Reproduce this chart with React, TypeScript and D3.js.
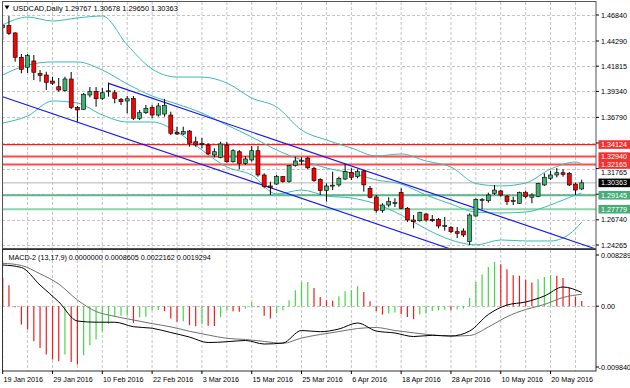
import React from "react";
import * as d3 from "d3";

// USDCAD daily candles, 19 Jan 2016 .. 27 May 2016
const opens = [
  1.4563, 1.4579, 1.4508, 1.4269, 1.4171, 1.4233, 1.4112, 1.4095, 1.4036, 1.398,
  1.3941, 1.4056, 1.3778, 1.3758, 1.3899, 1.3935, 1.3866, 1.3936, 1.3921, 1.3857,
  1.384, 1.3866, 1.367, 1.3725, 1.3778, 1.3702, 1.3712, 1.3702, 1.3533, 1.3516,
  1.3545, 1.344, 1.3421, 1.3408, 1.331, 1.3287, 1.3408, 1.3244, 1.3342, 1.3228,
  1.3261, 1.3352, 1.3114, 1.3006, 1.3025, 1.3097, 1.3048, 1.3205, 1.325, 1.328,
  1.318, 1.3071, 1.296, 1.301, 1.3016, 1.3074, 1.314, 1.3097, 1.3153, 1.2983,
  1.2898, 1.2765, 1.2819, 1.284, 1.2942, 1.2787, 1.2672, 1.2665, 1.2731, 1.2679,
  1.2679, 1.2614, 1.2598, 1.2557, 1.2564, 1.2459, 1.2711, 1.2868, 1.2861, 1.2934,
  1.2957, 1.2907, 1.286, 1.2836, 1.294, 1.2895, 1.2901, 1.3016, 1.3081, 1.3114,
  1.3136, 1.313, 1.3025, 1.29767,
];
const highs = [
  1.4603, 1.4674, 1.4515, 1.4301, 1.4301, 1.4291, 1.4144, 1.4127, 1.4078, 1.4066,
  1.4078, 1.4125, 1.3791, 1.3918, 1.3977, 1.3977, 1.3968, 1.402, 1.3948, 1.3869,
  1.3889, 1.3889, 1.3752, 1.3801, 1.3801, 1.382, 1.386, 1.3735, 1.3588, 1.3588,
  1.3555, 1.349, 1.3477, 1.3425, 1.3376, 1.344, 1.344, 1.3366, 1.3359, 1.33,
  1.3398, 1.3398, 1.313, 1.3048, 1.3114, 1.3104, 1.3212, 1.3293, 1.3287, 1.3293,
  1.3195, 1.3081, 1.3032, 1.3146, 1.3097, 1.3222, 1.318, 1.317, 1.316, 1.3006,
  1.2917, 1.2836, 1.2895, 1.2885, 1.2983, 1.2799, 1.2721, 1.2753, 1.2737, 1.2721,
  1.2692, 1.2701, 1.2613, 1.2603, 1.259, 1.2737, 1.2885, 1.2888, 1.294, 1.3016,
  1.2966, 1.2917, 1.2901, 1.295, 1.296, 1.2934, 1.3038, 1.313, 1.3156, 1.3182,
  1.317, 1.3143, 1.3038, 1.30678,
];
const lows = [
  1.4439, 1.4488, 1.4226, 1.4112, 1.4115, 1.4046, 1.4029, 1.3948, 1.3997, 1.3931,
  1.3931, 1.3761, 1.3637, 1.3752, 1.3876, 1.3784, 1.385, 1.3882, 1.3817, 1.3801,
  1.3719, 1.3653, 1.3653, 1.3712, 1.367, 1.3686, 1.3686, 1.3506, 1.3506, 1.3506,
  1.3391, 1.3391, 1.3376, 1.331, 1.3287, 1.3278, 1.3234, 1.3234, 1.317, 1.3212,
  1.3244, 1.3097, 1.2983, 1.2917, 1.3016, 1.3038, 1.3038, 1.3195, 1.3212, 1.3172,
  1.3048, 1.2917, 1.2852, 1.2966, 1.2999, 1.3064, 1.3064, 1.3081, 1.295, 1.2885,
  1.2744, 1.2744, 1.2797, 1.2799, 1.2777, 1.2652, 1.259, 1.2655, 1.2655, 1.2652,
  1.259, 1.2567, 1.2544, 1.2495, 1.2505, 1.2427, 1.2704, 1.2777, 1.2842, 1.2917,
  1.2901, 1.2819, 1.2819, 1.2829, 1.2885, 1.2836, 1.2895, 1.3006, 1.3064, 1.3091,
  1.3097, 1.3006, 1.2917, 1.2965,
];
const closes = [
  1.4579, 1.4504, 1.4269, 1.4151, 1.4285, 1.4122, 1.4092, 1.4023, 1.4014, 1.3948,
  1.4056, 1.3778, 1.3752, 1.3906, 1.3931, 1.3862, 1.3921, 1.394, 1.3866, 1.3833,
  1.3862, 1.367, 1.3725, 1.3768, 1.3702, 1.3791, 1.3798, 1.3523, 1.3516, 1.3539,
  1.3425, 1.3408, 1.3424, 1.332, 1.3342, 1.3418, 1.3244, 1.3352, 1.3228, 1.3271,
  1.3352, 1.3114, 1.2999, 1.2989, 1.3097, 1.3048, 1.3205, 1.3251, 1.3258, 1.3184,
  1.3058, 1.296, 1.3006, 1.3014, 1.3081, 1.3146, 1.3091, 1.3146, 1.3016, 1.2895,
  1.2767, 1.2819, 1.2852, 1.2843, 1.2787, 1.2672, 1.2655, 1.2744, 1.2672, 1.2665,
  1.2613, 1.2617, 1.2557, 1.2541, 1.2525, 1.2721, 1.2875, 1.2872, 1.2917, 1.2966,
  1.2917, 1.2852, 1.2863, 1.294, 1.2901, 1.2917, 1.3032, 1.3091, 1.3114, 1.3136,
  1.312, 1.3016, 1.2966, 1.30363,
];

const dateLabels = [
  "19 Jan 2016", "29 Jan 2016", "10 Feb 2016", "22 Feb 2016", "3 Mar 2016", "15 Mar 2016",
  "25 Mar 2016", "6 Apr 2016", "18 Apr 2016", "28 Apr 2016", "10 May 2016", "20 May 2016",
];
const priceTicks = [1.4684, 1.4429, 1.41815, 1.3934, 1.3679, 1.3428, 1.31765, 1.2925, 1.2674, 1.24265];
// ticks whose labels are not hidden under the level tags
const priceLabels = [1.4684, 1.4429, 1.41815, 1.3934, 1.3679, 1.31765, 1.2674, 1.24265];

// Bollinger bands (20,2), sampled every 4 bars
const bandBars = [0, 4, 8, 12, 16, 20, 24, 28, 32, 36, 40, 44, 48, 52, 56, 60, 64, 68, 72, 76, 80, 84, 88, 92, 93];
const bbUpper = [
  1.4586, 1.4664, 1.4625, 1.4655, 1.4674, 1.439, 1.4154, 1.4075, 1.4075, 1.4017,
  1.3869, 1.3781, 1.3555, 1.3457, 1.3379, 1.33, 1.332, 1.3251, 1.3192, 1.303,
  1.3006, 1.3035, 1.3172, 1.3241, 1.3222,
];
const bbMiddle = [
  1.4095, 1.4193, 1.4223, 1.4223, 1.4144, 1.4007, 1.3889, 1.381, 1.3722, 1.3604,
  1.3487, 1.3359, 1.3261, 1.3182, 1.3133, 1.3065, 1.3025, 1.2917, 1.2829, 1.275,
  1.2741, 1.275, 1.2819, 1.2917, 1.2937,
];
const bbLower = [
  1.3624, 1.3693, 1.384, 1.382, 1.3703, 1.3634, 1.3634, 1.3536, 1.3359, 1.3192,
  1.3114, 1.2927, 1.2966, 1.2908, 1.2888, 1.2829, 1.2721, 1.2584, 1.2476, 1.2427,
  1.2476, 1.2466, 1.2466, 1.2584, 1.2652,
];

// trend channel, [bar, price]
const channelLower = [[0, 1.3882], [65, 1.2531]];
const channelUpper = [[17, 1.4013], [65, 1.3016]];

const redLevels = [1.34124, 1.3294, 1.32165];
const greenLevels = [1.29145, 1.27779];
const lastPrice = 1.30363;

// MACD-2 (13,17,9)
const histogram = [
  0.00458, 0.0034, -0.00016, -0.00296, -0.00377, -0.00567, -0.00675, -0.00782, -0.00863, -0.0089,
  -0.00782, -0.00902, -0.00944, -0.00793, -0.00631, -0.00539, -0.00405, -0.00287, -0.00162, -0.00154,
  -0.00146, -0.0027, -0.00178, -0.0017, -0.00065, -0.00062, -0.00081, -0.00199, -0.00251, -0.00243,
  -0.00308, -0.00324, -0.00291, -0.00316, -0.00321, -0.00178, -0.00065, -0.00081, -0.00089, -0.0004,
  0.00065, -0.00016, -0.00154, -0.00199, -0.00113, -0.00065, 0.00097, 0.00259, 0.00389, 0.00393,
  0.00296, 0.00151, 0.00097, 0.00089, 0.00162, 0.00243, 0.00259, 0.00324, 0.00232, 0.00081,
  -0.00081, -0.00134, -0.00118, -0.00102, -0.0013, -0.00173, -0.0021, -0.00134, -0.00118, -0.00076,
  -0.00068, -0.00057, -0.00065, -0.00049, -0.0004, 0.00134, 0.00393, 0.00513, 0.00636, 0.00717,
  0.0068, 0.00599, 0.00502, 0.00494, 0.00432, 0.00384, 0.00437, 0.00474, 0.00502, 0.00494,
  0.00458, 0.00296, 0.00151, 0.00086,
];
const macdBars = [0, 3, 6, 9, 12, 15, 18, 21, 24, 27, 30, 33, 36, 39, 42, 45, 48, 51, 54, 57, 60, 63, 66, 69, 72, 75, 78, 81, 84, 87, 90, 93];
const macdMain = [
  0.00667, 0.00627, 0.00342, 0.00071, -0.0024, -0.00259, -0.00259, -0.00332, -0.00356, -0.00426,
  -0.00499, -0.00588, -0.00575, -0.00555, -0.00612, -0.00596, -0.00393, -0.00413, -0.00369, -0.00272,
  -0.00402, -0.00434, -0.00491, -0.00471, -0.00482, -0.00402, -0.00134, 0.00019, 0.00068, 0.00165,
  0.00311, 0.00222,
];
const macdSignal = [
  0.00695, 0.00659, 0.00525, 0.00359, 0.001, -0.00086, -0.00164, -0.00223, -0.00282, -0.00334,
  -0.00406, -0.00466, -0.0052, -0.00539, -0.0057, -0.00601, -0.00515, -0.00458, -0.0041, -0.00361,
  -0.00345, -0.00393, -0.00431, -0.00465, -0.00484, -0.00474, -0.00337, -0.0017, -0.00053, 0.00028,
  0.00141, 0.00193,
];

const FONT = "'Liberation Sans', Arial, sans-serif";

export default function App() {
  const left = 2;
  const right = 596;
  const mainTop = 2;
  const mainBottom = 249;
  const macdBottom = 371;

  const x = d3.scaleLinear().domain([0, closes.length - 1]).range([2.7, 581.7]);
  const y = d3.scaleLinear().domain([1.24265, 1.4684]).range([245, 15]);
  const ym = d3.scaleLinear().domain([-0.00984, 0.008289]).range([367, 255]);
  const fmt = d3.format(".5f");

  const bandLine = d3
    .line<number>()
    .x((d, i) => x(bandBars[i]))
    .y((d) => y(d))
    .curve(d3.curveMonotoneX);
  const macdLine = d3
    .line<number>()
    .x((d, i) => x(macdBars[i]))
    .y((d) => ym(d))
    .curve(d3.curveMonotoneX);

  // extend a channel line from its first anchor past the right edge
  const ray = (pts: number[][]) => {
    const [[b0, p0], [b1, p1]] = pts;
    const slope = (p1 - p0) / (b1 - b0);
    const bEnd = 110;
    return { x1: x(b0), y1: y(p0), x2: x(bEnd), y2: y(p0 + slope * (bEnd - b0)) };
  };

  const gridBars = d3.range(0, closes.length, 4);
  const labelBars = dateLabels.map((_, i) => i * 8);

  return (
    <div style={{ position: "absolute", left: 0, top: 0 }}>
      <svg width={630} height={388} style={{ display: "block", background: "#fff" }} fontFamily={FONT}>
        <defs>
          <clipPath id="mainClip">
            <rect x={left} y={mainTop} width={right - left} height={mainBottom - mainTop} />
          </clipPath>
          <clipPath id="macdClip">
            <rect x={left} y={mainBottom + 1} width={right - left} height={macdBottom - mainBottom - 1} />
          </clipPath>
        </defs>

        {/* grid */}
        <g stroke="#c4c4c4" strokeWidth={1} strokeDasharray="3 2">
          {priceTicks.map((p) => (
            <line key={p} x1={left} x2={right} y1={Math.round(y(p)) + 0.5} y2={Math.round(y(p)) + 0.5} />
          ))}
          {gridBars.map((b) => (
            <g key={b}>
              <line x1={x(b)} x2={x(b)} y1={mainTop} y2={mainBottom} />
              <line x1={x(b)} x2={x(b)} y1={mainBottom + 1} y2={macdBottom} />
            </g>
          ))}
          <line x1={left} x2={right} y1={Math.round(ym(0)) + 0.5} y2={Math.round(ym(0)) + 0.5} />
        </g>

        <g clipPath="url(#mainClip)">
          {/* horizontal levels */}
          <line x1={left} x2={right} y1={y(lastPrice)} y2={y(lastPrice)} stroke="#b4b4b4" strokeWidth={1} />
          {redLevels.map((p, i) => (
            <line
              key={p}
              x1={left}
              x2={right}
              y1={y(p)}
              y2={y(p)}
              stroke={i === 0 ? "#ff1a1a" : "#ff4a4a"}
              strokeWidth={i === 0 ? 1.2 : 2}
            />
          ))}
          {greenLevels.map((p, i) => (
            <line
              key={p}
              x1={left}
              x2={right}
              y1={y(p)}
              y2={y(p)}
              stroke={i === 0 ? "#5bb88c" : "#8ed2ae"}
              strokeWidth={2}
            />
          ))}

          {/* bollinger bands */}
          {[bbUpper, bbMiddle, bbLower].map((arr, i) => (
            <path key={i} d={bandLine(arr) || ""} fill="none" stroke="#3dbdb0" strokeWidth={1} />
          ))}

          {/* channel */}
          {[channelLower, channelUpper].map((pts, i) => {
            const r = ray(pts);
            return <line key={i} {...r} stroke="#1414ff" strokeWidth={1.1} />;
          })}

          {/* candles */}
          {closes.map((c, i) => {
            const o = opens[i];
            const cx = x(i);
            const top = y(Math.max(o, c));
            const h = Math.max(1, Math.abs(y(o) - y(c)));
            const up = c >= o;
            return (
              <g key={i}>
                <line x1={cx} x2={cx} y1={y(highs[i])} y2={y(lows[i])} stroke="#000" strokeWidth={1} />
                <rect
                  x={cx - 2}
                  y={top}
                  width={4}
                  height={h}
                  fill={up ? "#3cb371" : "#ff0000"}
                  stroke="#000"
                  strokeWidth={0.6}
                />
              </g>
            );
          })}
        </g>

        {/* MACD */}
        <g clipPath="url(#macdClip)">
          {histogram.map((v, i) => {
            const rising = i > 0 ? v >= histogram[i - 1] : false;
            return (
              <line
                key={i}
                x1={x(i)}
                x2={x(i)}
                y1={ym(0)}
                y2={ym(v)}
                stroke={rising ? "#45d645" : "#f21c1c"}
                strokeWidth={1.2}
              />
            );
          })}
          <path d={macdLine(macdSignal) || ""} fill="none" stroke="#707070" strokeWidth={1} />
          <path d={macdLine(macdMain) || ""} fill="none" stroke="#000" strokeWidth={1} />
        </g>

        {/* frames */}
        <rect x={2.5} y={1.5} width={right - 2.5} height={mainBottom - 2} fill="none" stroke="#555" strokeWidth={1} />
        <rect
          x={2.5}
          y={mainBottom + 0.5}
          width={right - 2.5}
          height={macdBottom - mainBottom - 0.5}
          fill="none"
          stroke="#333"
          strokeWidth={1}
        />

        {/* right price axis */}
        <g fontSize={7.2} fill="#000">
          {priceTicks.map((p) => (
            <line key={p} x1={right} x2={right + 3} y1={y(p)} y2={y(p)} stroke="#000" />
          ))}
          {priceLabels.map((p) => (
            <text key={p} x={601} y={y(p) + (p === 1.31765 ? 6.6 : 2.6)}>
              {fmt(p)}
            </text>
          ))}
          {[
            [0.008289, "0.008289"],
            [0, "0.00"],
            [-0.00984, "-0.009840"],
          ].map(([v, s]) => (
            <g key={s as string}>
              <line x1={right} x2={right + 3} y1={ym(v as number)} y2={ym(v as number)} stroke="#000" />
              <text x={s === "-0.009840" ? 598.5 : 601} y={ym(v as number) + 2.6}>
                {s}
              </text>
            </g>
          ))}
        </g>

        {/* level tags */}
        <g fontSize={7.2}>
          {[
            ...redLevels.map((p) => [p, "#f23030"]),
            ...greenLevels.map((p) => [p, "#46ad78"]),
            [lastPrice, "#000"],
          ].map(([p, col]) => (
            <g key={p as number}>
              <rect x={598.5} y={y(p as number) - 4.3} width={32} height={8.6} fill={col as string} />
              <text x={601} y={y(p as number) + 2.6} fill="#fff">
                {fmt(p as number)}
              </text>
            </g>
          ))}
        </g>

        {/* date axis */}
        <g fontSize={7.2} fill="#000">
          {labelBars.map((b, i) => (
            <g key={b}>
              <line x1={x(b)} x2={x(b)} y1={macdBottom} y2={macdBottom + 3} stroke="#000" />
              <text x={x(b) + 0.8} y={382}>
                {dateLabels[i]}
              </text>
            </g>
          ))}
        </g>

        {/* titles */}
        <path d="M4.5,5.5 L9.5,5.5 L7,9.5 Z" fill="#000" />
        <text x={13} y={11} fontSize={7.4} fill="#000">
          USDCAD,Daily  1.29767 1.30678 1.29650 1.30363
        </text>
        <text x={8.5} y={260} fontSize={7.2} fill="#000">
          MACD-2 (13,17,9) 0.0000000 0.0008605 0.0022162 0.0019294
        </text>
      </svg>
    </div>
  );
}
